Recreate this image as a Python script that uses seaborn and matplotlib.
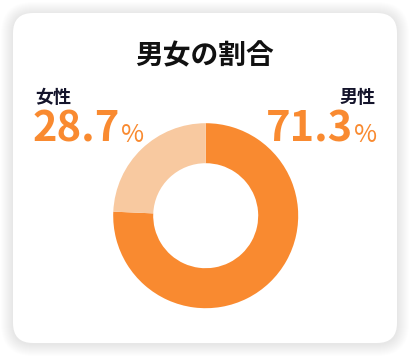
import matplotlib
matplotlib.use("Agg")
import matplotlib.pyplot as plt
from matplotlib.patches import FancyBboxPatch
import seaborn as sns

# データ
title = "男女の割合"
labels = ["男性", "女性"]
values = [71.3, 28.7]
# リングの見た目の割合
ring_shares = [75.7, 24.3]
colors = ["#F98A30", "#F8C9A0"]

sns.set_theme(style="white")
plt.rcParams['font.family'] = ['Noto Sans CJK JP', 'DejaVu Sans']

W, H = 410, 356
fig = plt.figure(figsize=(W / 100, H / 100), dpi=100)
fig.patch.set_facecolor("white")

# 背景カード（ピクセル座標）
bg = fig.add_axes([0, 0, 1, 1])
bg.set_xlim(0, W)
bg.set_ylim(H, 0)
bg.axis("off")
for pad in range(12, 0, -1):
    bg.add_patch(FancyBboxPatch((13 - pad, 13 - pad + 1), 384 + 2 * pad, 330 + 2 * pad,
                                boxstyle=f"round,pad=0,rounding_size={20 + pad}",
                                fc="black", ec="none", alpha=0.006))
bg.add_patch(FancyBboxPatch((13, 13), 384, 330, boxstyle="round,pad=0,rounding_size=20",
                            fc="white", ec="none"))

bg.text(205, 56, title, ha="center", va="center", fontsize=20, fontweight="bold", color="#111111")

# ラベル
bg.text(35, 103, labels[1], ha="left", va="baseline", fontsize=13, fontweight="bold", color="#14142b")
bg.text(376, 103, labels[0], ha="right", va="baseline", fontsize=13, fontweight="bold", color="#14142b")

# パーセント表示
fig.canvas.draw()
r = fig.canvas.get_renderer()
num_l = bg.text(33, 141.5, f"{values[1]:.1f}", ha="left", va="baseline", fontsize=30,
                fontweight="bold", color=colors[0])
ext = num_l.get_window_extent(r)
bg.text(ext.x1 + 1, 141.5, "%", ha="left", va="baseline", fontsize=18, color=colors[0])

pct_r = bg.text(377, 141.5, "%", ha="right", va="baseline", fontsize=18, color=colors[0])
ext = pct_r.get_window_extent(r)
bg.text(ext.x0 - 1, 141.5, f"{values[0]:.1f}", ha="right", va="baseline", fontsize=30,
        fontweight="bold", color=colors[0])

# ドーナツ
cx, cy, rad = 205.7, 215.7, 92.5
ax = fig.add_axes([(cx - rad) / W, (H - cy - rad) / H, 2 * rad / W, 2 * rad / H])
ax.pie(ring_shares, colors=colors, startangle=90, counterclock=False,
       wedgeprops=dict(width=40 / rad, edgecolor="none"))
ax.set_xlim(-1, 1)
ax.set_ylim(-1, 1)
ax.set_aspect("equal")
ax.axis("off")

fig.savefig("out.png", dpi=100, facecolor=fig.get_facecolor())
